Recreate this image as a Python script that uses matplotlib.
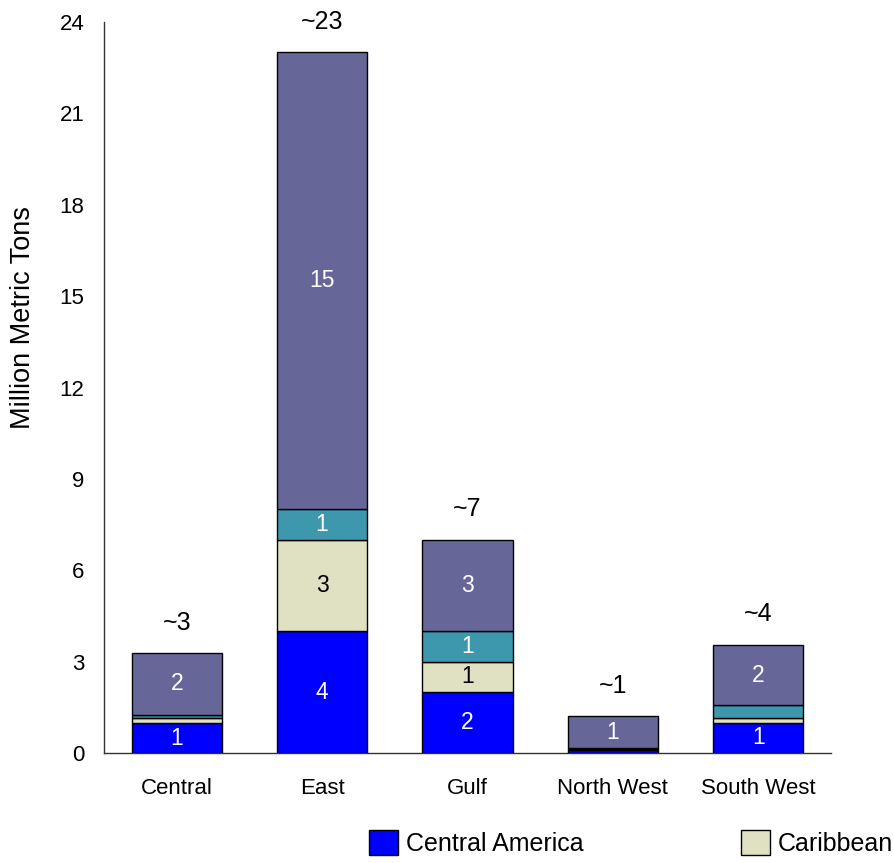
import matplotlib
matplotlib.use("Agg")
import matplotlib.pyplot as plt
import numpy as np
from matplotlib.patches import Patch

plt.rcParams['font.family'] = ['Liberation Sans', 'DejaVu Sans']

regions = ["Central", "East", "Gulf", "North West", "South West"]
series_names = ["Central America", "Caribbean", "South America", "Other"]
central_america = [0.98, 4.0, 2.0, 0.10, 0.99]
caribbean = [0.16, 3.0, 1.0, 0.02, 0.17]
south_america = [0.12, 1.0, 1.0, 0.03, 0.40]
other = [2.02, 15.0, 3.0, 1.05, 2.00]
y_ticks = [0, 3, 6, 9, 12, 15, 18, 21, 24]

colors = ["#0000FF", "#E0E0C2", "#3D97AD", "#666699"]
label_colors = ["white", "black", "white", "white"]

W, H = 895, 863
fig = plt.figure(figsize=(W / 100, H / 100), dpi=100)
ax = fig.add_axes([104 / W, 1 - 753 / H, (831 - 104) / W, (753 - 22) / H])

x = np.arange(len(regions))
bottom = np.zeros(len(regions))
for vals, col, lc in zip([central_america, caribbean, south_america, other], colors, label_colors):
    vals = np.array(vals)
    ax.bar(x, vals, width=0.62, bottom=bottom, color=col, edgecolor="black", linewidth=1.0, zorder=3)
    for xi, v, b in zip(x, vals, bottom):
        if v >= 0.5:
            ax.text(xi, b + v / 2, f"{round(v):.0f}", ha="center", va="center",
                    color=lc, fontsize=16.5, zorder=4)
    bottom = bottom + vals

for xi, tot in zip(x, bottom):
    ax.annotate(f"~{round(tot):.0f}", (xi, tot), xytext=(0, 22), textcoords="offset points",
                ha="center", va="center", fontsize=18, annotation_clip=False)

ax.set_xlim(-0.5, 4.5)
ax.set_ylim(0, 24)
ax.set_yticks(y_ticks)
ax.set_xticks(x)
ax.set_xticklabels(regions)
ax.tick_params(axis="both", length=0, labelsize=16)
ax.tick_params(axis="y", pad=14)
ax.tick_params(axis="x", pad=18)
ax.set_ylabel("Million Metric Tons", fontsize=19.5)
ax.yaxis.set_label_coords(-0.094, 0.596)
for s in ["top", "right"]:
    ax.spines[s].set_visible(False)
for s in ["left", "bottom"]:
    ax.spines[s].set_color("#333333")
    ax.spines[s].set_linewidth(1.0)

# legend row shown beneath the plot
handles = [Patch(facecolor=c, edgecolor="black", linewidth=1.0) for c in colors[:2]]
fig.legend(handles, series_names[:2], ncol=2, loc="upper left",
           bbox_to_anchor=(369 / W, 1 - 830 / H), frameon=False, fontsize=18,
           handlelength=1.15, handleheight=1.15, handletextpad=0.33,
           columnspacing=6.3, borderpad=0, borderaxespad=0)

fig.savefig("out.png", dpi=100)
